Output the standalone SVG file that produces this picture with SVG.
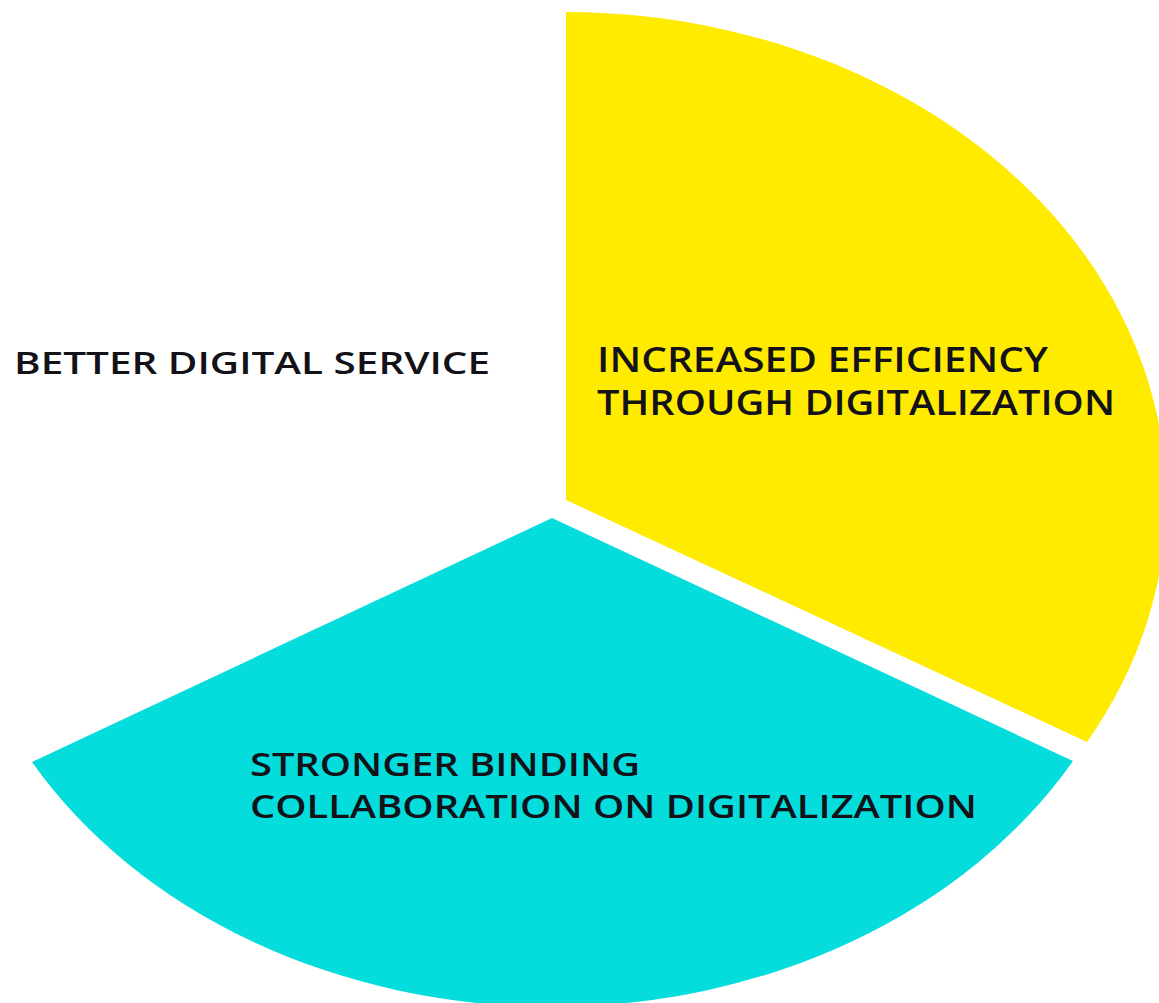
<svg xmlns="http://www.w3.org/2000/svg" width="1159" height="1003" viewBox="0 0 1159 1003">
  <style>
    .label { font-family: "Open Sans", "Liberation Sans", sans-serif; font-weight: 600; fill: #121218; }
  </style>
  <rect x="0" y="0" width="1159" height="1003" fill="#ffffff"/>

  <!-- Segment: increased efficiency (yellow, top right) -->
  <g id="segment-efficiency">
    <path d="M566,500 L566,12 A602,488 0 0 1 1087,742 Z" fill="#ffeb00"/>
    <text class="label" x="597" y="372" font-size="34" textLength="451" lengthAdjust="spacingAndGlyphs">INCREASED EFFICIENCY</text>
    <text class="label" x="597" y="415" font-size="34" textLength="518" lengthAdjust="spacingAndGlyphs">THROUGH DIGITALIZATION</text>
  </g>

  <!-- Segment: stronger binding collaboration (cyan, bottom) -->
  <g id="segment-collaboration">
    <path d="M552,518 L1073,761 A600,488 0 0 1 32,762 Z" fill="#05dcdc"/>
    <text class="label" x="250" y="776" font-size="32" textLength="390" lengthAdjust="spacingAndGlyphs">STRONGER BINDING</text>
    <text class="label" x="250" y="818" font-size="32" textLength="727" lengthAdjust="spacingAndGlyphs">COLLABORATION ON DIGITALIZATION</text>
  </g>

  <!-- Segment: better digital service (white, top left) -->
  <g id="segment-service">
    <text class="label" x="14" y="374" font-size="31" textLength="476" lengthAdjust="spacingAndGlyphs">BETTER DIGITAL SERVICE</text>
  </g>
</svg>
